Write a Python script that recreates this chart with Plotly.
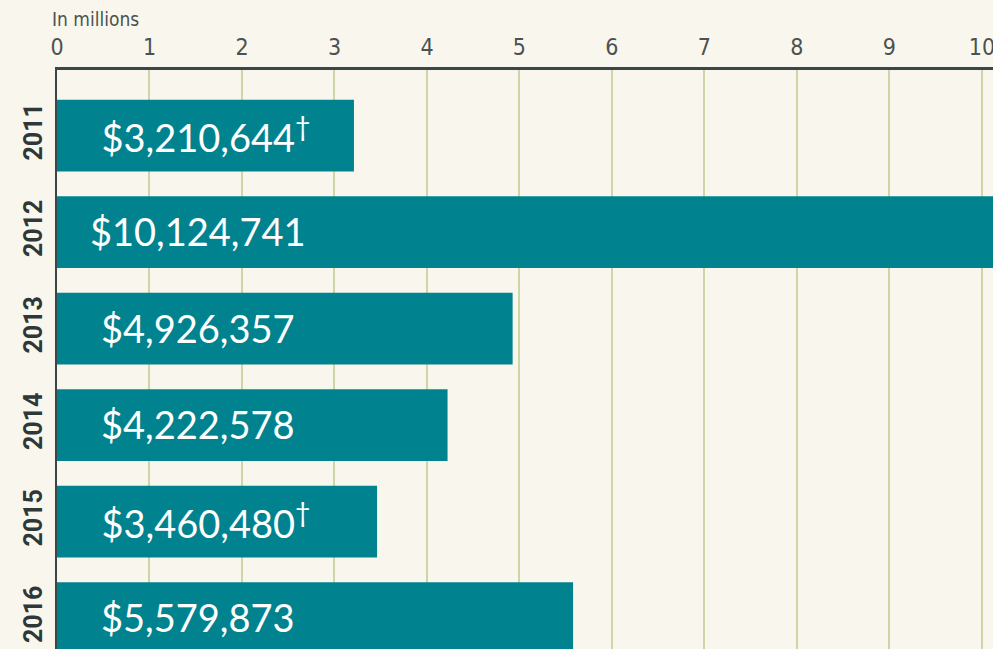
import plotly.graph_objects as go

years = ["2011", "2012", "2013", "2014", "2015", "2016"]
values = [3210644, 10124741, 4926357, 4222578, 3460480, 5579873]
daggers = [True, False, False, False, True, False]
tick_vals = list(range(0, 11))

vals_m = [v / 1e6 for v in values]
pad = "<span style='color:rgba(0,0,0,0)'><sup>†</sup></span>"
labels = [(pad if d else "") + "${:,}".format(v) + ("<sup>†</sup>" if d else "")
          for v, d in zip(values, daggers)]

fig = go.Figure()
fig.add_trace(go.Bar(
    y=years, x=vals_m, orientation="h",
    marker=dict(color="#01838f", line=dict(width=0)),
    width=0.745, hoverinfo="skip",
))

for i, lab in enumerate(labels):
    fig.add_annotation(x=0, y=i, xref="x", yref="y", text=lab, showarrow=False,
                       xanchor="center", yanchor="middle", xshift=141, yshift=1,
                       font=dict(family="Lato", size=38, color="#ffffff"))

fig.add_annotation(x=0, y=1, xref="paper", yref="paper", text="In millions",
                   showarrow=False, xanchor="left", yanchor="bottom", xshift=-7, yshift=38,
                   font=dict(family="DejaVu Sans Condensed, Roboto", size=19, color="#4a5252"))

fig.update_layout(
    width=993, height=649,
    margin=dict(l=57, r=0, t=70, b=0, autoexpand=False),
    paper_bgcolor="#f9f7ed", plot_bgcolor="rgba(0,0,0,0)",
    showlegend=False,
    xaxis=dict(side="top", range=[0, 10.12], tickvals=tick_vals,
               showgrid=True, gridcolor="#cdd6a6", gridwidth=2,
               showline=True, linecolor="#3b4646", linewidth=3,
               zeroline=False, ticks="", ticklabelstandoff=3, ticklabeloverflow="allow",
               tickfont=dict(family="DejaVu Sans Condensed, Roboto", size=23, color="#4a5252"),
               automargin=False),
    yaxis=dict(type="category", categoryorder="array", categoryarray=years, range=[5.32, -0.68],
               showgrid=False, zeroline=False, showline=True, linecolor="#3b4646", linewidth=2,
               ticks="", tickangle=-90, ticklabelstandoff=3,
               tickfont=dict(family="Roboto", size=25, color="#2e3838", weight="bold"),
               automargin=False),
)

fig.write_html("out.html", config={"displayModeBar": False},
               post_script="document.body.style.margin='0';")
